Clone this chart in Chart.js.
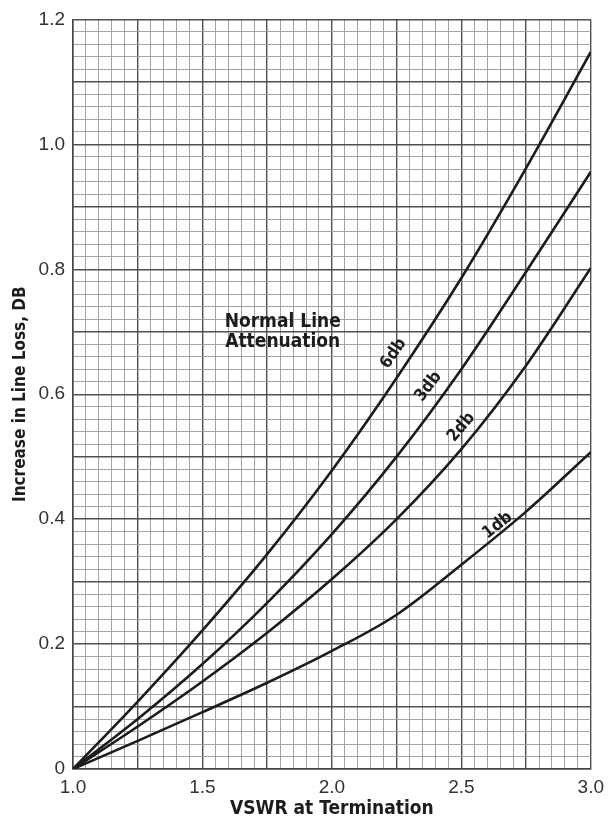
<!DOCTYPE html>
<html>
<head>
<meta charset="utf-8">
<script src="https://cdn.jsdelivr.net/npm/chart.js@4/dist/chart.umd.min.js"></script>
<style>
    html, body { margin: 0; padding: 0; background: #fff; }
</style>
</head>
<body>
<canvas id="myChart" width="611" height="820"></canvas>
<script>
// values
var vswr = [1.0, 1.25, 1.5, 1.75, 2.0, 2.25, 2.5, 2.75, 3.0];
var loss6db = [0, 0.108, 0.222, 0.344, 0.478, 0.626, 0.786, 0.962, 1.148];
var loss3db = [0, 0.08, 0.168, 0.266, 0.376, 0.5, 0.64, 0.796, 0.956];
var loss2db = [0, 0.068, 0.14, 0.218, 0.304, 0.40, 0.512, 0.646, 0.802];
var loss1db = [0, 0.045, 0.091, 0.138, 0.189, 0.247, 0.327, 0.412, 0.507];
var curveNames = ['6db', '3db', '2db', '1db'];
var xTickLabels = ['1.0', '1.5', '2.0', '2.5', '3.0'];
var yTickLabels = ['0', '0.2', '0.4', '0.6', '0.8', '1.0', '1.2'];

var boldFont = "'Liberation Sans Narrow', 'DejaVu Sans Condensed', 'Liberation Sans', sans-serif";

function isMultiple(v, step) {
    var r = v / step;
    return Math.abs(r - Math.round(r)) < 1e-6;
}

function points(ys) {
    var out = [];
    for (var i = 0; i < vswr.length; i++) {
        out.push({ x: vswr[i], y: ys[i] });
    }
    return out;
}

var allSeries = [loss6db, loss3db, loss2db, loss1db];
var datasets = [];
for (var i = 0; i < allSeries.length; i++) {
    datasets.push({
        label: curveNames[i],
        data: points(allSeries[i]),
        borderColor: '#1c1c1c',
        borderWidth: 2.6,
        pointRadius: 0,
        fill: false,
        cubicInterpolationMode: 'monotone'
    });
}

// curve names and the note, placed in data units
var textPlugin = {
    id: 'curveText',
    afterDatasetsDraw: function(chart) {
        var ctx = chart.ctx;
        var xs = chart.scales.x;
        var ys = chart.scales.y;
        var spots = [
            [2.238, 0.665, -56],
            [2.373, 0.612, -53],
            [2.5, 0.547, -50],
            [2.64, 0.39, -38]
        ];
        ctx.save();
        ctx.fillStyle = '#1c1c1c';
        ctx.textAlign = 'center';
        ctx.textBaseline = 'middle';
        ctx.font = 'bold 17px ' + boldFont;
        for (var i = 0; i < spots.length; i++) {
            ctx.save();
            ctx.translate(xs.getPixelForValue(spots[i][0]), ys.getPixelForValue(spots[i][1]));
            ctx.rotate(spots[i][2] * Math.PI / 180);
            ctx.fillText(curveNames[i], 0, 0);
            ctx.restore();
        }
        ctx.font = 'bold 19px ' + boldFont;
        ctx.fillText('Normal Line', xs.getPixelForValue(1.81), ys.getPixelForValue(0.716));
        ctx.fillText('Attenuation', xs.getPixelForValue(1.81), ys.getPixelForValue(0.684));
        ctx.restore();
    }
};

function gridColor(step) {
    return function(c) {
        return isMultiple(c.tick.value, step) ? '#505050' : '#9a9a9a';
    };
}
function gridWidth(step) {
    return function(c) {
        return isMultiple(c.tick.value, step) ? 1.4 : 0.9;
    };
}

var ctx = document.getElementById('myChart');
var chart = new Chart(ctx, {
    type: 'line',
    data: { datasets: datasets },
    options: {
        responsive: false,
        animation: false,
        layout: { padding: { top: 17, right: 18, left: 0, bottom: 0 } },
        plugins: {
            legend: { display: false },
            tooltip: { enabled: false }
        },
        scales: {
            x: {
                type: 'linear',
                min: 1.0,
                max: 3.0,
                afterBuildTicks: function(scale) {
                    var t = [];
                    for (var i = 0; i <= 40; i++) t.push({ value: Math.round((1 + i * 0.05) * 100) / 100 });
                    scale.ticks = t;
                },
                afterFit: function(scale) { scale.height = 51; },
                ticks: {
                    autoSkip: false,
                    maxRotation: 0,
                    padding: 7,
                    color: '#333',
                    font: { family: "'Liberation Sans', sans-serif", size: 19 },
                    callback: function(value) {
                        if (!isMultiple(value, 0.5)) return '';
                        return xTickLabels[Math.round((value - 1) / 0.5)];
                    }
                },
                grid: { color: gridColor(0.25), lineWidth: gridWidth(0.25), drawTicks: false },
                border: { display: true, color: '#444', width: 1.5 },
                title: {
                    display: true,
                    text: 'VSWR at Termination',
                    color: '#1c1c1c',
                    font: { family: boldFont, size: 19, weight: 'bold' },
                    padding: { top: 0, bottom: 0 }
                }
            },
            y: {
                type: 'linear',
                min: 0,
                max: 1.2,
                afterBuildTicks: function(scale) {
                    var t = [];
                    for (var i = 0; i <= 60; i++) t.push({ value: Math.round(i * 0.02 * 100) / 100 });
                    scale.ticks = t;
                },
                afterFit: function(scale) { scale.width = 73; },
                ticks: {
                    autoSkip: false,
                    padding: 8,
                    color: '#333',
                    font: { family: "'Liberation Sans', sans-serif", size: 19 },
                    callback: function(value) {
                        if (!isMultiple(value, 0.2)) return '';
                        return yTickLabels[Math.round(value / 0.2)];
                    }
                },
                grid: { color: gridColor(0.1), lineWidth: gridWidth(0.1), drawTicks: false },
                border: { display: true, color: '#444', width: 1.5 },
                title: {
                    display: true,
                    text: 'Increase in Line Loss, DB',
                    color: '#1c1c1c',
                    font: { family: boldFont, size: 17, weight: 'bold' },
                    padding: { top: 10, bottom: 0 }
                }
            }
        }
    },
    plugins: [textPlugin]
});
</script>
</body>
</html>
